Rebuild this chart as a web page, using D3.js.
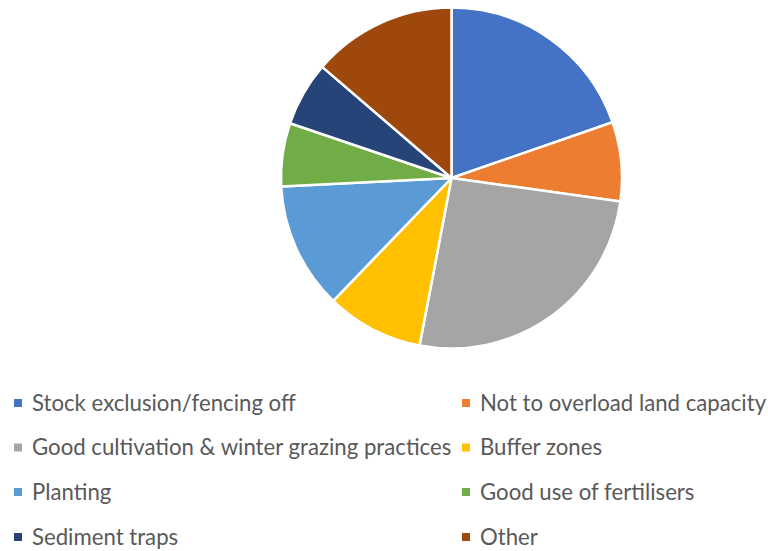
<!DOCTYPE html>
<html>
<head>
<meta charset="utf-8">
<script src="https://cdn.jsdelivr.net/npm/d3@7"></script>
<style>
  html, body { margin: 0; padding: 0; background: #fff; }
  svg { display: block; }
</style>
</head>
<body>
<svg id="chart" width="768" height="551"></svg>
<script>
// Measures reported for reducing sediment runoff (share of responses, %)
const categories = [
  "Stock exclusion/fencing off",
  "Not to overload land capacity",
  "Good cultivation & winter grazing practices",
  "Buffer zones",
  "Planting",
  "Good use of fertilisers",
  "Sediment traps",
  "Other"
];
const values = [19.7, 7.5, 25.8, 9.2, 12.0, 6.0, 6.1, 13.7];
const colors = ["#4472C4", "#ED7D31", "#A5A5A5", "#FFC000", "#5B9BD5", "#70AD47", "#264478", "#9E480E"];

const svg = d3.select("#chart");
const cx = 451.5, cy = 178, radius = 170.5;

const data = categories.map((c, i) => ({ name: c, value: values[i], color: colors[i] }));

const pie = d3.pie().value(d => d.value).sort(null);
const arc = d3.arc().innerRadius(0).outerRadius(radius);

svg.append("g")
  .attr("transform", `translate(${cx},${cy})`)
  .selectAll("path")
  .data(pie(data))
  .join("path")
  .attr("d", arc)
  .attr("fill", d => d.data.color)
  .attr("stroke", "#fff")
  .attr("stroke-width", 2.5)
  .attr("stroke-linejoin", "round");

// Legend: two columns, four rows
const colX = [14, 462];
const rowY = [403, 447.5, 492, 537];
const legend = svg.append("g")
  .attr("font-family", "Lato, 'Open Sans', sans-serif")
  .attr("font-size", 22.2)
  .attr("fill", "#595959");

data.forEach((d, i) => {
  const col = i % 2, row = Math.floor(i / 2);
  const g = legend.append("g").attr("transform", `translate(${colX[col]},${rowY[row]})`);
  g.append("rect").attr("x", 0).attr("y", -4).attr("width", 8).attr("height", 8).attr("fill", d.color);
  g.append("text").attr("x", 18).attr("y", 0).attr("dy", "0.35em").text(d.name);
});
</script>
</body>
</html>
